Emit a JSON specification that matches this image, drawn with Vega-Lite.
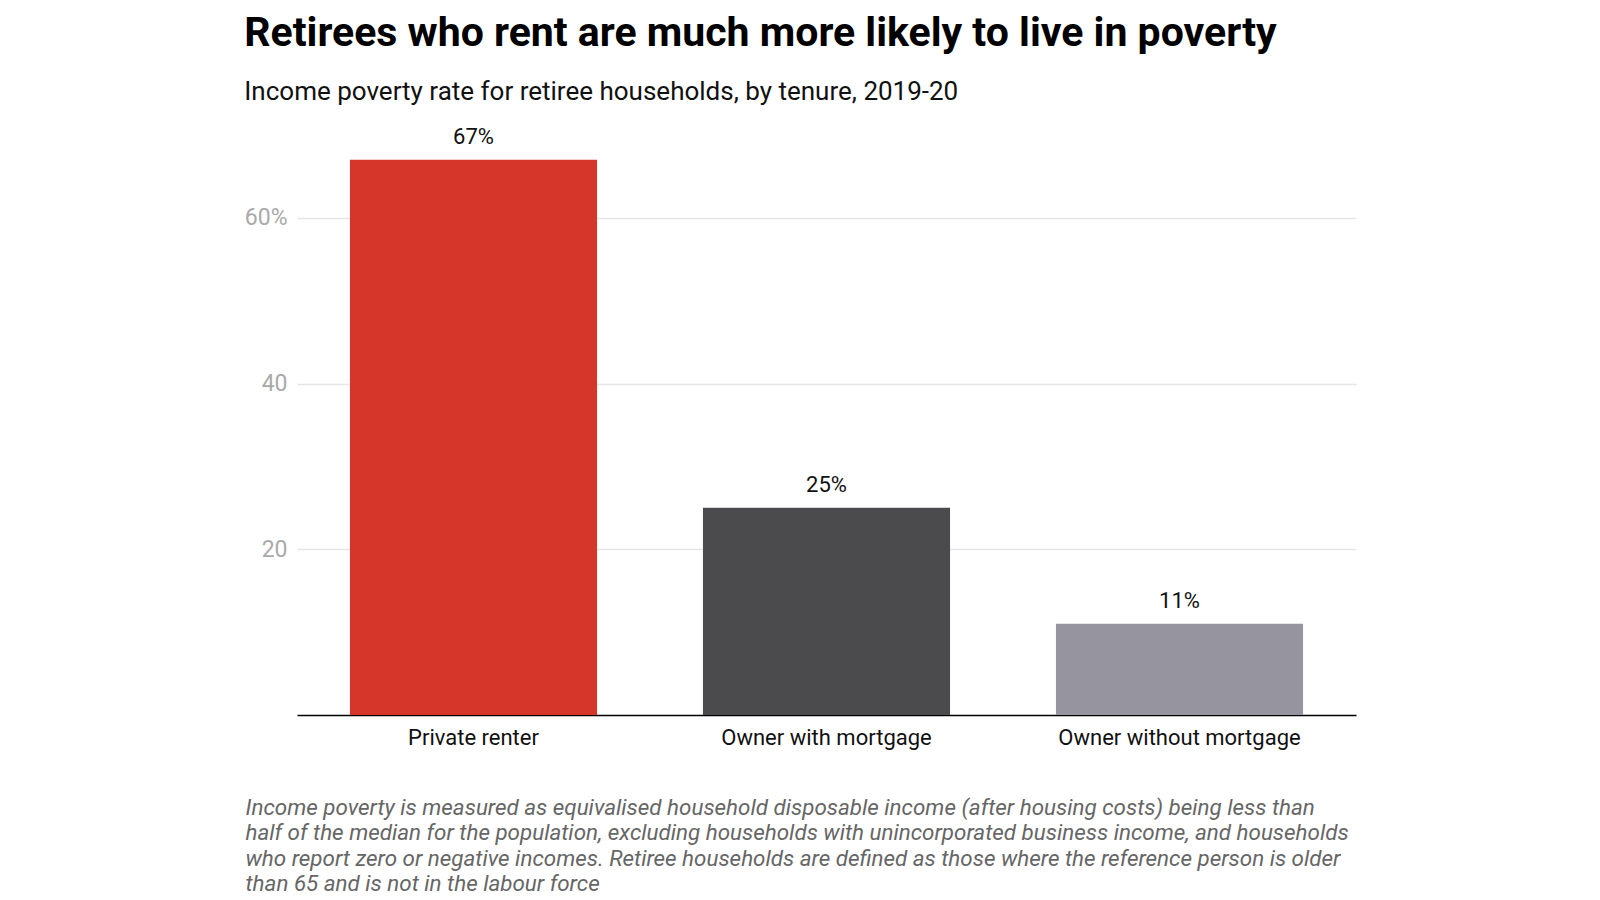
{
  "$schema": "https://vega.github.io/schema/vega-lite/v6.json",
  "width": 1059,
  "height": 580,
  "padding": {"left": 244, "top": 12, "right": 10, "bottom": 10},
  "background": "white",
  "config": {"font": "Roboto", "view": {"stroke": null}},
  "title": {
    "text": "Retirees who rent are much more likely to live in poverty",
    "subtitle": "Income poverty rate for retiree households, by tenure, 2019-20",
    "anchor": "start",
    "frame": "bounds",
    "font": "Roboto",
    "fontSize": 41,
    "fontWeight": "bold",
    "color": "#000000",
    "subtitleFont": "Roboto",
    "subtitleFontSize": 26,
    "subtitleColor": "#111111",
    "subtitlePadding": 24,
    "offset": 20
  },
  "data": {
    "values": [
      {"tenure": "Private renter", "rate": 67, "label": "67%"},
      {"tenure": "Owner with mortgage", "rate": 25, "label": "25%"},
      {"tenure": "Owner without mortgage", "rate": 11, "label": "11%"}
    ]
  },
  "encoding": {
    "x": {
      "field": "tenure",
      "type": "nominal",
      "sort": null,
      "scale": {"paddingInner": 0.3, "paddingOuter": 0.15},
      "axis": {
        "labelAngle": 0,
        "labelFontSize": 22,
        "labelColor": "#111111",
        "labelPadding": 12,
        "labelLimit": 0,
        "ticks": false,
        "domainColor": "#000000",
        "domainWidth": 1.5,
        "title": [
          "Income poverty is measured as equivalised household disposable income (after housing costs) being less than",
          "half of the median for the population, excluding households with unincorporated business income, and households",
          "who report zero or negative incomes. Retiree households are defined as those where the reference person is older",
          "than 65 and is not in the labour force"
        ],
        "titleFontSize": 22.4,
        "titleFontStyle": "italic",
        "titleFontWeight": "normal",
        "titleColor": "#666666",
        "titleAnchor": "start",
        "titleAlign": "left",
        "titleBaseline": "alphabetic",
        "titleLineHeight": 25.6,
        "titleX": -52,
        "titleY": 99
      }
    },
    "y": {
      "field": "rate",
      "type": "quantitative",
      "scale": {"domain": [0, 70], "nice": false},
      "axis": {
        "values": [20, 40, 60],
        "labelExpr": "datum.value == 60 ? '60%' : datum.label",
        "labelFontSize": 23,
        "labelColor": "#aaaaaa",
        "labelPadding": 10,
        "ticks": false,
        "domain": false,
        "gridColor": "#e6e6e6",
        "gridWidth": 1.5,
        "title": null
      }
    }
  },
  "layer": [
    {
      "mark": {"type": "bar"},
      "encoding": {
        "color": {
          "field": "tenure",
          "type": "nominal",
          "scale": {
            "domain": ["Private renter", "Owner with mortgage", "Owner without mortgage"],
            "range": ["#d6352a", "#4b4b4e", "#95949f"]
          },
          "legend": null
        }
      }
    },
    {
      "mark": {"type": "text", "baseline": "bottom", "dy": -11, "fontSize": 22, "color": "#111111"},
      "encoding": {"text": {"field": "label"}}
    }
  ]
}
